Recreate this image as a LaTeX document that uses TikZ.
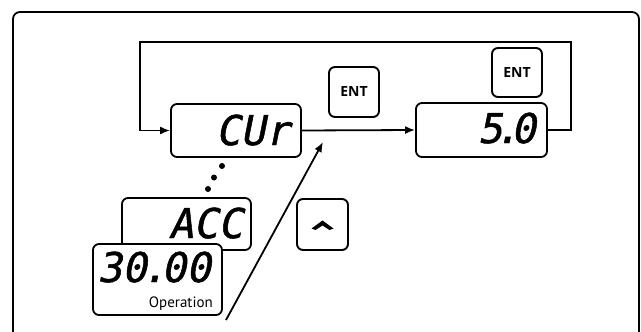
\documentclass[tikz,border=0pt]{standalone}
\usepackage{fontspec}
\usetikzlibrary{arrows.meta}
\newfontfamily\segfont{DejaVu Sans Mono}[FakeSlant=0.2, FakeBold=1.2]
\newfontfamily\keyfont{Open Sans}
\newfontfamily\labfont{PT Sans}
\tikzset{
  disp/.style={draw, line width=1.8pt, rounded corners=6pt, fill=white, inner sep=0pt},
  keybox/.style={draw, line width=1.9pt, rounded corners=6pt, fill=white, inner sep=0pt, minimum width=50pt, minimum height=50pt, font=\keyfont\bfseries\fontsize{14}{14}\selectfont},
  seg/.style={inner sep=0pt, font=\segfont\fontsize{41}{41}\selectfont},
  arr/.style={line width=1.8pt, -{Latex[length=10pt,width=8pt]}},
  dotc/.style={circle, fill=black, inner sep=0pt, minimum size=6pt}
}
\begin{document}
\begin{tikzpicture}[x=1pt,y=-1pt]
\useasboundingbox (0,0) rectangle (641,332);
\clip (0,0) rectangle (641,332);
% outer frame
\draw[line width=1.8pt, rounded corners=7pt] (13,360) -- (13,12) -- (639,12) -- (639,360);
% display boxes
\node[disp, minimum width=130pt, minimum height=53pt] (cur) at (236,130.5) {};
\node[disp, minimum width=131pt, minimum height=54pt] (val) at (481.5,130) {};
\node[disp, minimum width=129pt, minimum height=52pt] (acc) at (186.5,224) {};
\node[disp, minimum width=129pt, minimum height=71pt] (op) at (157.5,279.5) {};
% display texts
\node[seg, anchor=base east] (curtxt) at (290,145) {CUr};
\node[seg, anchor=base east] (valtxt) at (536,143) {5\kern-8pt.\kern-8pt0};
\node[seg, anchor=base east] (acctxt) at (243,238) {ACC};
\node[seg, anchor=base east] (optxt) at (211,282) {30\kern-5pt.\kern-5pt00};
\node[inner sep=0pt, anchor=base east, font=\labfont\fontsize{15}{15}\selectfont] (oplab) at (213,307) {Operation};
% keys
\node[keybox] (ent1) at (354,92) {ENT};
\node[keybox, minimum height=49pt] (ent2) at (517,72.5) {ENT};
\node[keybox, minimum width=51pt, minimum height=51pt] (up) at (322.5,224.5) {};
\fill (up.center) ++(-11,4) -- ++(11,-8) -- ++(11,8) -- ++(-4,1.5) -- ++(-7,-4.5) -- ++(-7,4.5) -- cycle;
% dots
\node[dotc] (d1) at (222,166) {};
\node[dotc] (d2) at (214,177.5) {};
\node[dotc] (d3) at (208,189) {};
% connectors
\draw[arr] (cur.east) -- (val.west);
\draw[arr] (val.east) -- (571,130) -- (571,42) -- (140,42) -- (140,130.5) -- (cur.west);
\coordinate (start) at (226,320);
\coordinate (tip) at (323,142);
\draw[arr] (start) -- (tip);
\end{tikzpicture}
\end{document}
